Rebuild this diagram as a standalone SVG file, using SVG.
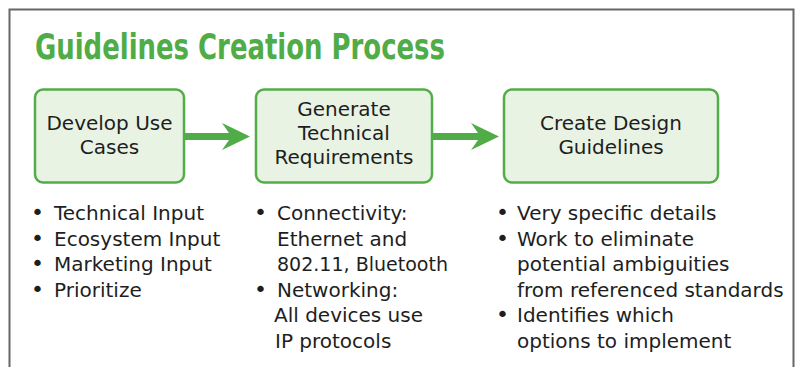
<svg xmlns="http://www.w3.org/2000/svg" width="796" height="367" viewBox="0 0 796 367">
<style>
.title{font-family:"DejaVu Sans Condensed","DejaVu Sans",sans-serif;font-weight:bold;font-size:36px;fill:#4fac47}
.box{fill:#e8f3e4;stroke:#52ad48;stroke-width:2.5}
.t{font-family:"DejaVu Sans",sans-serif;font-size:20px;fill:#1e1e1e}
.c{text-anchor:middle}
.b{font-family:"DejaVu Sans",sans-serif;font-size:22px;fill:#1e1e1e}
.arrow{fill:#4fac47}
</style>
<rect width="796" height="367" fill="#fff"/>
<path d="M9.5,367 V9.5 H793.5 V367" fill="none" stroke="#666" stroke-width="2"/>
<text class="title" x="35" y="59" textLength="410" lengthAdjust="spacingAndGlyphs">Guidelines Creation Process</text>
<g id="connectors">
<path class="arrow" d="M184,133 L229,133 L222,123 L250,136.5 L222,150 L229,140 L184,140 Z"/>
<path class="arrow" d="M432,133 L478,133 L471,123 L499,136.5 L471,150 L478,140 L432,140 Z"/>
</g>
<g id="node1">
<rect class="box" x="35" y="89.5" width="149" height="93" rx="8"/>
<text class="t c" x="109.5" y="130">Develop Use</text>
<text class="t c" x="109.5" y="154">Cases</text>
</g>
<g id="node2">
<rect class="box" x="256" y="89.5" width="176" height="93" rx="8"/>
<text class="t c" x="344" y="116">Generate</text>
<text class="t c" x="344" y="140">Technical</text>
<text class="t c" x="344" y="164">Requirements</text>
</g>
<g id="node3">
<rect class="box" x="504" y="89.5" width="214" height="93" rx="8"/>
<text class="t c" x="611" y="130">Create Design</text>
<text class="t c" x="611" y="154">Guidelines</text>
</g>
<g id="list1">
<text class="b" x="31" y="220">•</text><text class="t" x="54" y="220">Technical Input</text>
<text class="b" x="31" y="245.5">•</text><text class="t" x="54" y="245.5">Ecosystem Input</text>
<text class="b" x="31" y="271">•</text><text class="t" x="54" y="271">Marketing Input</text>
<text class="b" x="31" y="296.5">•</text><text class="t" x="54" y="296.5">Prioritize</text>
</g>
<g id="list2">
<text class="b" x="254" y="220">•</text><text class="t" x="277" y="220">Connectivity:</text>
<text class="t" x="277" y="245.5">Ethernet and</text>
<text class="t" x="277" y="271" textLength="171" lengthAdjust="spacingAndGlyphs">802.11, Bluetooth</text>
<text class="b" x="254" y="296.5">•</text><text class="t" x="277" y="296.5">Networking:</text>
<text class="t" x="274" y="322">All devices use</text>
<text class="t" x="275" y="347.5">IP protocols</text>
</g>
<g id="list3">
<text class="b" x="496" y="220">•</text><text class="t" x="517" y="220">Very specific details</text>
<text class="b" x="496" y="245.5">•</text><text class="t" x="517" y="245.5">Work to eliminate</text>
<text class="t" x="517" y="271">potential ambiguities</text>
<text class="t" x="517" y="296.5">from referenced standards</text>
<text class="b" x="496" y="322">•</text><text class="t" x="517" y="322">Identifies which</text>
<text class="t" x="517" y="347.5">options to implement</text>
</g>
</svg>
